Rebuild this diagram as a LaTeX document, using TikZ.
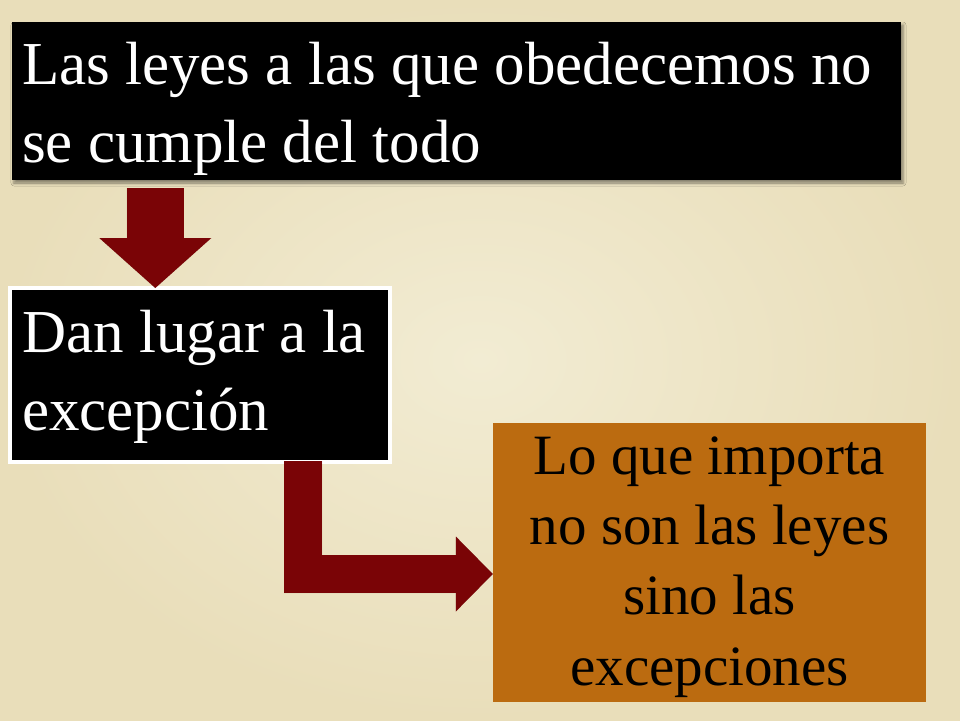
\documentclass[tikz,border=0pt]{standalone}
\usepackage{fontspec}
\setmainfont{Liberation Serif}
\usetikzlibrary{arrows.meta,shadows.blur,calc}
\definecolor{parch}{RGB}{238,230,203}
\definecolor{parchdark}{RGB}{233,222,186}
\definecolor{parchlight}{RGB}{242,236,211}
\definecolor{arrowred}{RGB}{122,4,6}
\definecolor{amber}{RGB}{187,107,16}
\begin{document}
\begin{tikzpicture}[x=1pt,y=-1pt,
  blackbox/.style={rectangle, fill=black, inner sep=0pt},
  amberbox/.style={rectangle, fill=amber, inner sep=0pt},
  whitetext/.style={text=white, align=left, inner sep=0pt, font=\fontsize{61}{78}\selectfont},
  darktext/.style={text=black, align=center, inner sep=0pt, font=\fontsize{57}{70.3}\selectfont},
  flow/.style={draw=arrowred, line width=#1, line join=miter, line cap=butt},
  flowshadow/.style={draw=black, line width=#1, line join=miter, line cap=butt}
]
\useasboundingbox (0,0) rectangle (960,720);
\fill[parch] (0,0) rectangle (960,720);
\shade[inner color=parchlight, outer color=parchdark] (0,0) rectangle (960,720);

% boxes
\node[blackbox, blur shadow={shadow xshift=2pt, shadow yshift=-3pt, shadow blur radius=3pt, shadow opacity=45},
  minimum width=889pt, minimum height=158pt] (b1) at (456.5,101) {};
\node[whitetext, anchor=west] (t1) at ($(b1.west)+(10,7.5)$)
  {Las leyes a las que obedecemos no\\se cumple del todo};

\node[blackbox, draw=white, line width=4pt, minimum width=380pt, minimum height=174pt,
  outer sep=0pt] (b2) at (200,375) {};
\node[whitetext, anchor=west] (t2) at ($(b2.west)+(12,2.3)$)
  {Dan lugar a la\\excepción};

\node[amberbox, minimum width=433pt, minimum height=279pt] (b3) at (709.5,562.5) {};
\node[darktext] (t3) at ($(b3.center)+(0,4.5)$)
  {Lo que importa\\no son las leyes\\sino las\\excepciones};

% connector endpoints
\coordinate (a1s) at ($(b1.south west)+(143.5,8)$);
\coordinate (a1e) at ($(a1s |- b2.north)$);
\coordinate (a2s) at ($(b2.south west)+(293,-1)$);
\coordinate (a2e) at ($(b3.west)+(0,11.5)$);

% shadows
\begin{scope}[transparency group, opacity=0.22, shift={(2,4)}]
  \draw[flowshadow=57pt, -{Triangle[length=50pt,width=112pt,line width=0pt]}] (a1s) -- (a1e);
  \draw[flowshadow=38pt, -{Triangle[length=37pt,width=75pt,line width=0pt]}] (a2s) |- (a2e);
\end{scope}

% arrows
\draw[flow=57pt, -{Triangle[length=50pt,width=112pt,line width=0pt]}] (a1s) -- (a1e);
\draw[flow=38pt, -{Triangle[length=37pt,width=75pt,line width=0pt]}] (a2s) |- (a2e);
\end{tikzpicture}
\end{document}
